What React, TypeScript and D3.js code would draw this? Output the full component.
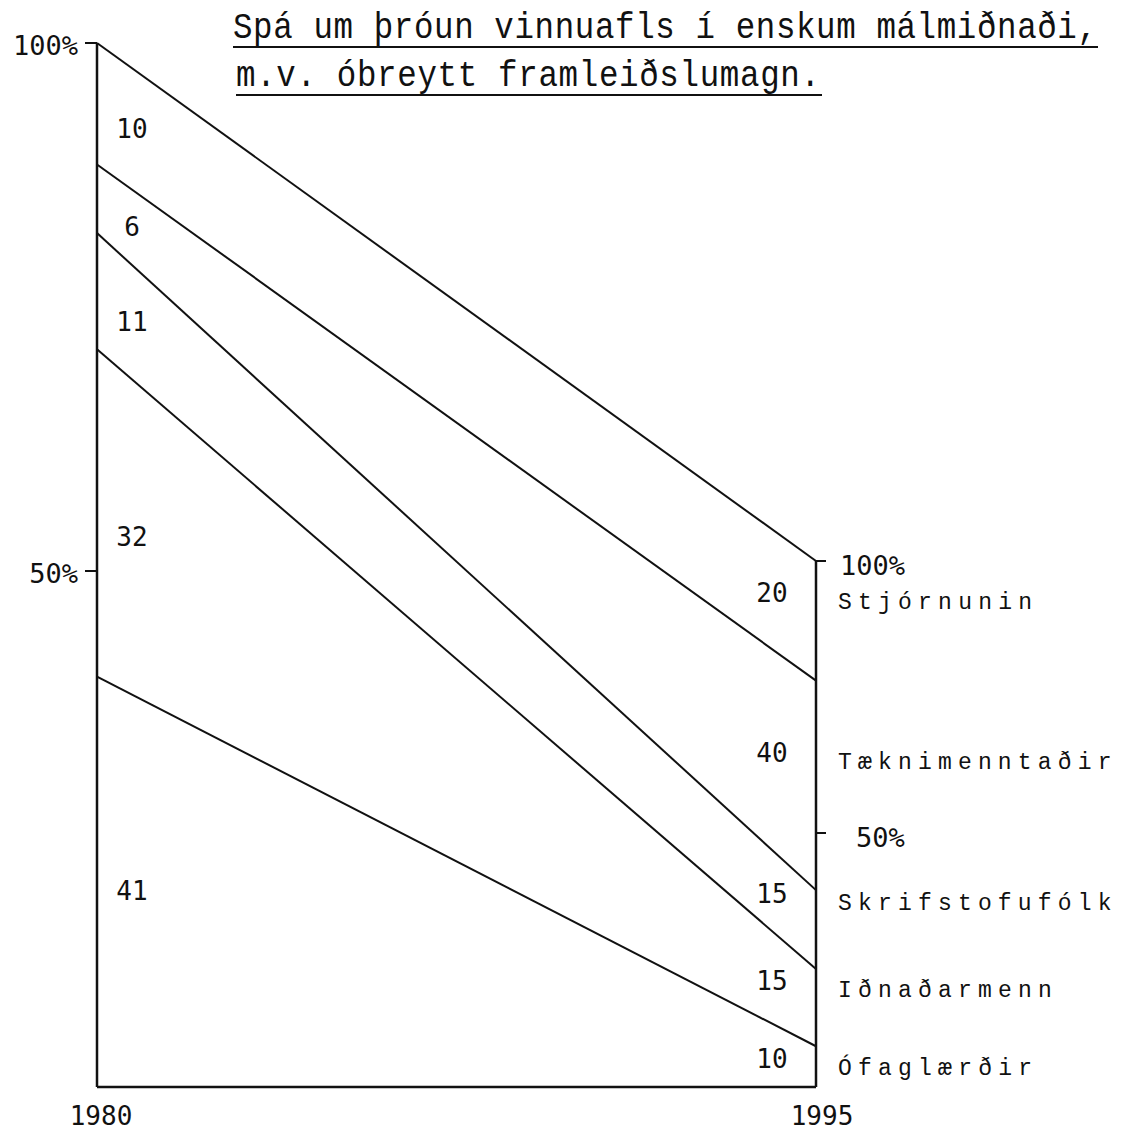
import React from "react";
import * as d3 from "d3";

// ---- data ----
const years = [1980, 1995];
const categories = ["Ófaglærðir", "Iðnaðarmenn", "Skrifstofufólk", "Tæknimenntaðir", "Stjórnunin"]; // bottom → top
const share1980 = [41, 32, 11, 6, 10];
const share1995 = [10, 15, 15, 40, 20];
// upper boundary of each band, in % of that year's workforce (as drawn)
const upper1980 = [40, 71, 82, 88.5, 100];
const upper1995 = [10.8, 25, 39.5, 78, 100];
const leftTicks = [100, 50];
const rightTicks = [100, 50];
const titleLines = ["Spá um þróun vinnuafls í enskum málmiðnaði,", "m.v. óbreytt framleiðslumagn."];

const W = 1124;
const H = 1132;
const bottomY = 1087;
const numFont = "'DejaVu Sans Mono', monospace";
const typeFont = "'Liberation Mono', 'Courier New', monospace";

export default function App() {
  const x = d3.scaleLinear().domain([years[0], years[1]]).range([97, 816]);
  const yL = d3.scaleLinear().domain([0, 100]).range([1099, 43]);
  const yR = d3.scaleLinear().domain([0, 100]).range([1105, 561]);
  const x0 = x(years[0]);
  const x1 = x(years[1]);

  const lineGen = d3.line<[number, number]>().x((d) => d[0]).y((d) => d[1]);
  const boundaries = upper1980.map((v, i) => [
    [x0, yL(v)],
    [x1, yR(upper1995[i])],
  ] as [number, number][]);

  const lineYAt = (i: number, px: number) => {
    if (i < 0) return bottomY;
    const t = (px - x0) / (x1 - x0);
    return d3.interpolateNumber(yL(upper1980[i]), yR(upper1995[i]))(t);
  };

  const leftLabelX = 132;
  const rightLabelX = 772;

  return (
    <svg
      width={W}
      height={H}
      style={{ position: "absolute", left: 0, top: 0, background: "#fff" }}
    >
      {/* title */}
      <g fill="#111" fontFamily={typeFont}>
        <text transform="translate(233,38) scale(1,1.12)" fontSize={32.5} textLength={864} lengthAdjust="spacing">
          {titleLines[0]}
        </text>
        <line x1={233} x2={1098} y1={47} y2={47} stroke="#111" strokeWidth={2} />
        <text transform="translate(236,86) scale(1,1.12)" fontSize={32.5} textLength={584} lengthAdjust="spacing">
          {titleLines[1]}
        </text>
        <line x1={236} x2={822} y1={95} y2={95} stroke="#111" strokeWidth={2} />
      </g>

      {/* frame */}
      <g stroke="#111" strokeWidth={2.5} fill="none">
        <line x1={x0} x2={x0} y1={yL(100)} y2={bottomY} />
        <line x1={x0} x2={x1} y1={bottomY} y2={bottomY} />
        <line x1={x1} x2={x1} y1={yR(100)} y2={bottomY} />
      </g>

      {/* left ticks */}
      {leftTicks.map((t) => (
        <g key={"lt" + t}>
          <line x1={x0 - 12} x2={x0} y1={yL(t)} y2={yL(t)} stroke="#111" strokeWidth={2} />
          <text
            x={x0 - 19}
            y={yL(t) + 2}
            textAnchor="end"
            dominantBaseline="central"
            fontFamily={numFont}
            fontSize={27}
            fill="#111"
          >
            {t}%
          </text>
        </g>
      ))}

      {/* right ticks */}
      {rightTicks.map((t, i) => (
        <g key={"rt" + t}>
          <line x1={x1} x2={x1 + 10} y1={yR(t)} y2={yR(t)} stroke="#111" strokeWidth={2} />
          <text
            x={i === 0 ? x1 + 24 : x1 + 40}
            y={yR(t) + 4}
            dominantBaseline="central"
            fontFamily={numFont}
            fontSize={27}
            fill="#111"
          >
            {t}%
          </text>
        </g>
      ))}

      {/* boundary lines */}
      {boundaries.map((b, i) => (
        <path key={"b" + i} d={lineGen(b) || ""} stroke="#111" strokeWidth={2} fill="none" />
      ))}

      {/* left share labels */}
      {share1980.map((s, i) => {
        const yy = (lineYAt(i, leftLabelX) + lineYAt(i - 1, leftLabelX)) / 2;
        return (
          <text
            key={"ls" + i}
            x={leftLabelX}
            y={yy}
            textAnchor="middle"
            dominantBaseline="central"
            fontFamily={numFont}
            fontSize={26}
            fill="#111"
          >
            {s}
          </text>
        );
      })}

      {/* right share labels + category names */}
      {share1995.map((s, i) => {
        const yy = (lineYAt(i, rightLabelX) + lineYAt(i - 1, rightLabelX)) / 2;
        return (
          <g key={"rs" + i}>
            <text
              x={rightLabelX}
              y={yy + 4}
              textAnchor="middle"
              dominantBaseline="central"
              fontFamily={numFont}
              fontSize={26}
              fill="#111"
            >
              {s}
            </text>
            <text
              x={838}
              y={yy + 14}
              dominantBaseline="central"
              fontFamily={typeFont}
              fontSize={23}
              textLength={categories[i].length * 19.9 - 5}
              lengthAdjust="spacing"
              fill="#111"
            >
              {categories[i]}
            </text>
          </g>
        );
      })}

      {/* year labels */}
      {years.map((yr) => (
        <text
          key={"y" + yr}
          x={x(yr) + (yr === years[0] ? 4 : 6)}
          y={1116}
          textAnchor="middle"
          dominantBaseline="central"
          fontFamily={numFont}
          fontSize={26}
          fill="#111"
        >
          {yr}
        </text>
      ))}
    </svg>
  );
}
